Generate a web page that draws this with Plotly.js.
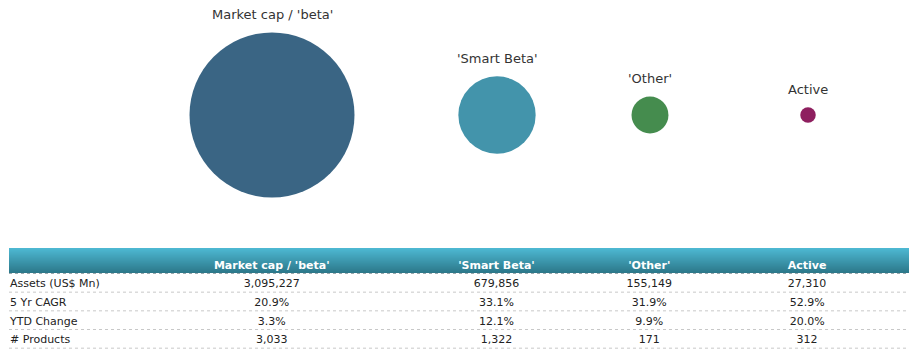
<!DOCTYPE html>
<html>
<head>
<meta charset="utf-8">
<script src="https://cdn.plot.ly/plotly-3.0.1.min.js"></script>
<style>html,body{margin:0;padding:0;background:#fff;}#chart{width:915px;height:361px;}</style>
</head>
<body>
<div id="chart"></div>
<script>
// ---- data ----
const categories = ["Market cap / 'beta'", "'Smart Beta'", "'Other'", "Active"];
const assets = [3095227, 679856, 155149, 27310];
const cagr5 = [20.9, 33.1, 31.9, 52.9];
const ytdChange = [3.3, 12.1, 9.9, 20.0];
const products = [3033, 1322, 171, 312];
const rowLabels = ["Assets (US$ Mn)", "5 Yr CAGR", "YTD Change", "# Products"];
const colors = ["#3a6584", "#4394ab", "#458c4e", "#8e1f5f"];

// ---- layout helpers ----
const W = 915, H = 361;
const bandLeft = 9, bandRight = 909, bandTop = 248, bandH = 25;
const tableLeft = 2, tableTop = 253;
const headerH = 18, rowH = 18.67;
const colWidths = [141, 258, 192, 114, 202];
const colCenters = [];
{ let acc = tableLeft + colWidths[0];
  for (let i = 1; i < colWidths.length; i++) { colCenters.push((acc + colWidths[i] / 2) / W); acc += colWidths[i]; } }
const tableRight = tableLeft + colWidths.reduce((a, b) => a + b, 0);

const fmtInt = v => v.toLocaleString('en-US');
const fmtPct = v => v.toFixed(1) + '%';

const maxD = 165;
const sizeref = 2 * Math.max(...assets) / (maxD * maxD);
const radius = v => Math.sqrt(v / 2 / sizeref);

const bubbles = {
  type: 'scatter', mode: 'markers',
  x: colCenters, y: categories.map(() => 0),
  marker: {size: assets, sizemode: 'area', sizeref: sizeref, color: colors, line: {width: 0}, opacity: 1},
  hoverinfo: 'skip', cliponaxis: false, showlegend: false
};

const annotations = categories.map((c, i) => ({
  x: colCenters[i], y: 0, xref: 'x', yref: 'y', text: c, showarrow: false,
  yanchor: 'middle', xanchor: 'center', yshift: radius(assets[i]) + 18,
  font: {family: 'DejaVu Sans', size: 13, color: '#333333'}
}));

const cellValues = [rowLabels];
for (let i = 0; i < categories.length; i++) {
  cellValues.push([fmtInt(assets[i]), fmtPct(cagr5[i]), fmtPct(ytdChange[i]), fmtInt(products[i])]);
}

const table = {
  type: 'table',
  domain: {x: [tableLeft / W, tableRight / W], y: [0, 1 - tableTop / H]},
  columnwidth: colWidths,
  header: {
    values: [''].concat(categories),
    align: ['left', 'center', 'center', 'center', 'center'],
    height: headerH,
    fill: {color: 'rgba(0,0,0,0)'},
    line: {width: 0, color: 'rgba(0,0,0,0)'},
    font: {family: 'DejaVu Sans', size: 11, color: '#ffffff', weight: 'bold'}
  },
  cells: {
    values: cellValues,
    align: ['left', 'center', 'center', 'center', 'center'],
    height: rowH,
    fill: {color: 'rgba(0,0,0,0)'},
    line: {width: 0, color: 'rgba(0,0,0,0)'},
    font: {family: 'DejaVu Sans', size: 11, color: '#222222'}
  }
};

// gradient header band & dotted separators
const shapes = [];
const gradTop = [0x4d, 0xb8, 0xd2], gradBot = [0x2c, 0x78, 0x8a];
for (let i = 0; i < bandH; i++) {
  const t = i / (bandH - 1);
  const c = gradTop.map((a, k) => Math.round(a + (gradBot[k] - a) * t));
  shapes.push({type: 'rect', xref: 'paper', yref: 'paper', layer: 'below',
    x0: bandLeft / W, x1: bandRight / W,
    y0: 1 - (bandTop + i + 1) / H, y1: 1 - (bandTop + i) / H,
    fillcolor: `rgb(${c[0]},${c[1]},${c[2]})`, line: {width: 0}});
}
for (let r = 0; r <= rowLabels.length; r++) {
  const yp = bandTop + bandH + 0.5 + r * rowH;
  shapes.push({type: 'line', xref: 'paper', yref: 'paper', layer: 'above',
    x0: bandLeft / W, x1: bandRight / W, y0: 1 - yp / H, y1: 1 - yp / H,
    line: {color: r === 0 ? '#9aa7ab' : '#c8c8c8', width: 1, dash: 'dot'}});
}

const yc = 1 - 115 / H;
const layout = {
  width: W, height: H,
  margin: {l: 0, r: 0, t: 0, b: 0},
  paper_bgcolor: '#ffffff', plot_bgcolor: '#ffffff',
  xaxis: {range: [0, 1], domain: [0, 1], visible: false, fixedrange: true},
  yaxis: {range: [-1, 1], domain: [yc - 0.3, yc + 0.3], visible: false, fixedrange: true},
  shapes: shapes,
  annotations: annotations,
  showlegend: false
};

Plotly.newPlot('chart', [bubbles, table], layout, {displayModeBar: false, staticPlot: true});
</script>
</body>
</html>
